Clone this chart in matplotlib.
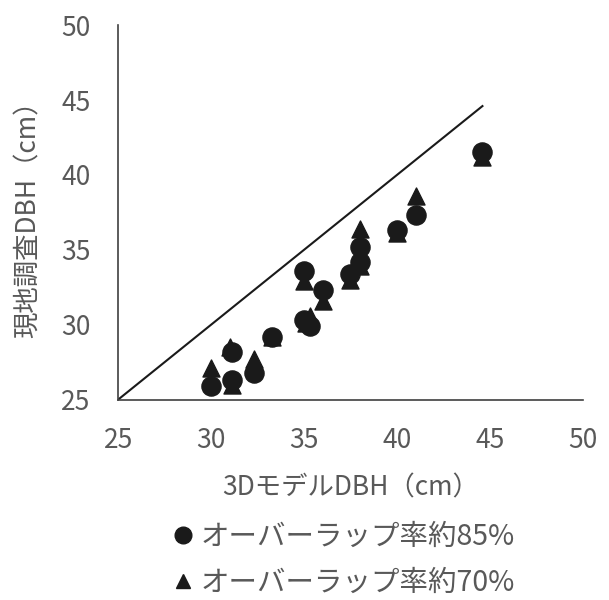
import matplotlib.pyplot as plt
from matplotlib.lines import Line2D

plt.rcParams['font.family'] = ['Noto Sans CJK JP', 'DejaVu Sans']

# 3D model DBH vs field survey DBH (cm)
x_85 = [30.0, 31.1, 31.1, 32.3, 33.3, 35.0, 35.3, 35.0, 36.0, 37.5, 38.0, 38.0, 40.0, 41.0, 44.6]
y_85 = [25.9, 26.3, 28.2, 26.8, 29.2, 30.3, 29.9, 33.6, 32.3, 33.4, 34.2, 35.2, 36.3, 37.3, 41.5]

x_70 = [30.0, 31.1, 31.0, 32.3, 33.3, 35.1, 35.3, 35.0, 36.0, 37.5, 38.0, 38.0, 40.0, 41.0, 44.6]
y_70 = [27.1, 26.0, 28.5, 27.7, 29.2, 30.1, 30.6, 32.9, 31.6, 33.0, 33.9, 36.4, 36.1, 38.6, 41.2]

line_ends = [25, 44.6]
ticks = [25, 30, 35, 40, 45, 50]

gray = '#595959'

fig = plt.figure(figsize=(6.09, 6.0), dpi=100)
ax = fig.add_axes([0.194, 0.334, 0.763, 0.624])

ax.plot(line_ends, line_ends, color='#1a1a1a', lw=1.5, zorder=1)
ax.scatter(x_70, y_70, marker='^', s=150, color='#1a1a1a', zorder=2)
ax.scatter(x_85, y_85, marker='o', s=190, color='#1a1a1a', zorder=3)

ax.set_xlim(25, 50)
ax.set_ylim(25, 50)
ax.set_xticks(ticks)
ax.set_yticks(ticks)
ax.tick_params(length=0, labelsize=19, colors=gray, pad=20)
for s in ['top', 'right']:
    ax.spines[s].set_visible(False)
for s in ['left', 'bottom']:
    ax.spines[s].set_color('#404040')
    ax.spines[s].set_linewidth(1.2)

ax.set_xlabel('3DモデルDBH（cm）', fontsize=19, color=gray)
ax.set_ylabel('現地調査DBH（cm）', fontsize=19, color=gray)
ax.xaxis.set_label_coords(0.5, -0.2)
ax.yaxis.set_label_coords(-0.165, 0.5)

handles = [
    Line2D([], [], marker='o', ls='', color='#1a1a1a', markersize=12),
    Line2D([], [], marker='^', ls='', color='#1a1a1a', markersize=10),
]
fig.legend(handles, ['オーバーラップ率約85%', 'オーバーラップ率約70%'],
           loc='center', bbox_to_anchor=(0.565, 0.067), frameon=False,
           fontsize=20.5, labelcolor=gray, handlelength=0.7, handletextpad=0.25,
           labelspacing=0.55, borderpad=0)

fig.savefig('out.png', dpi=100)
